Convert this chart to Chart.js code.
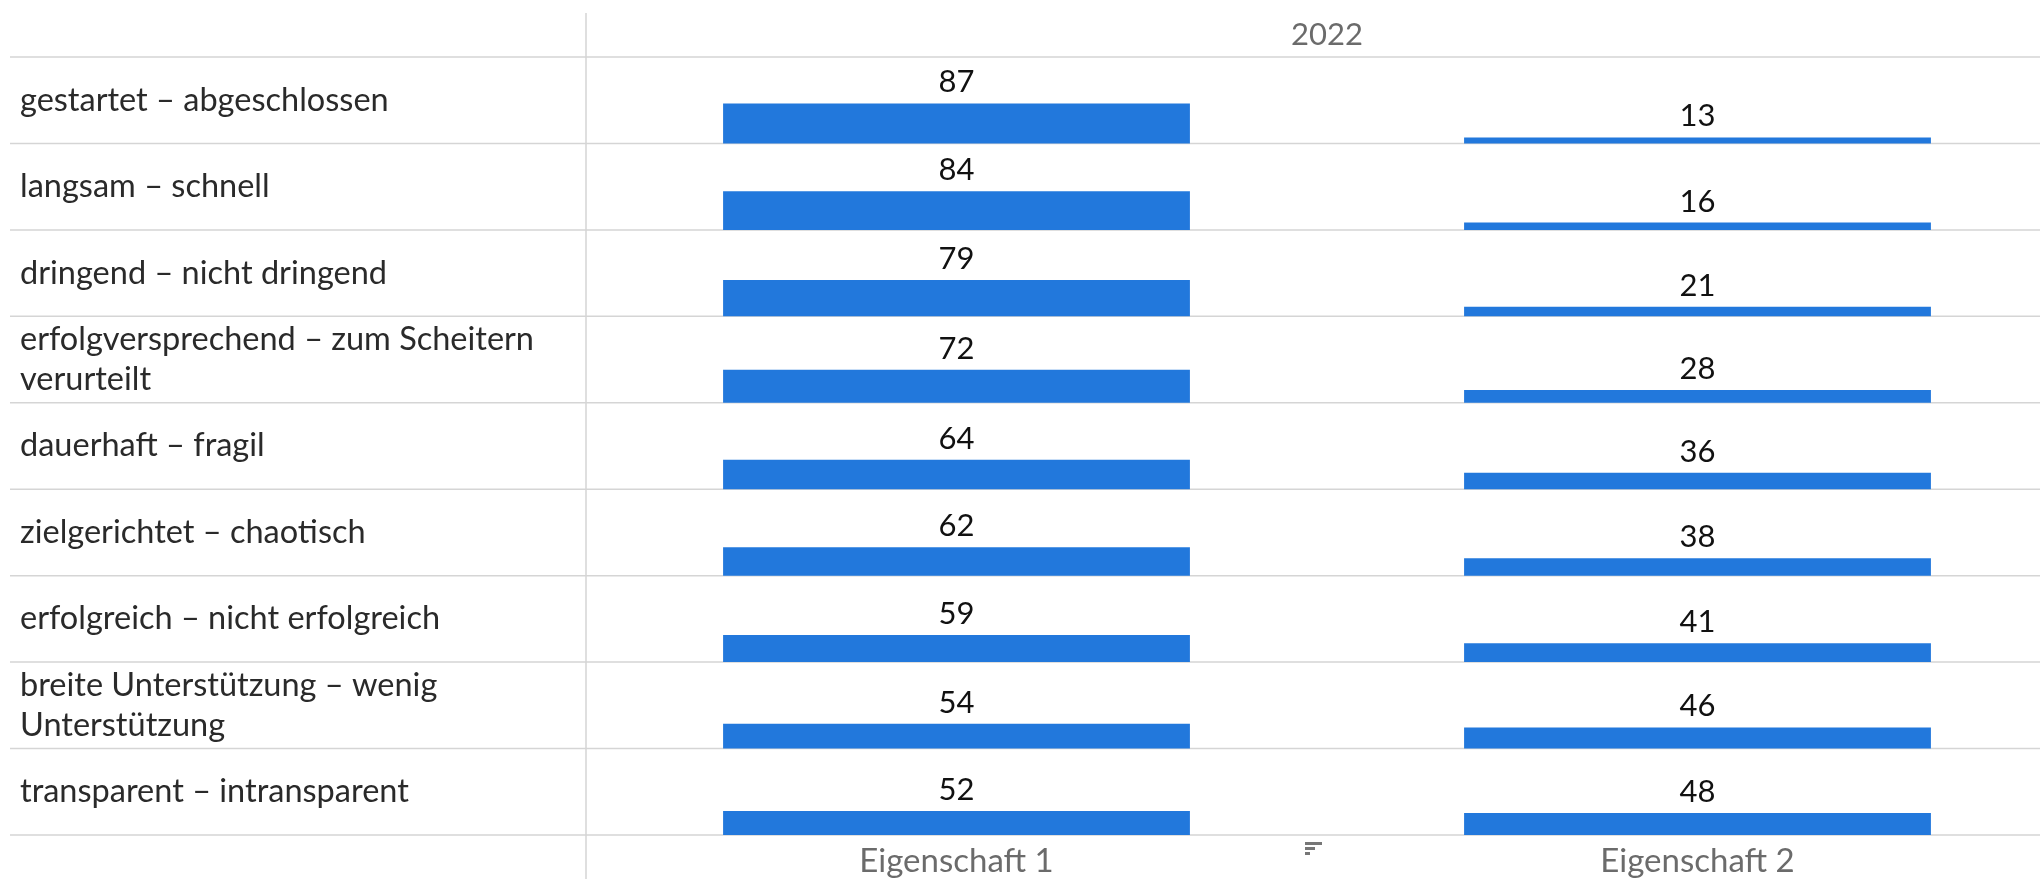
<!DOCTYPE html>
<html>
<head>
<meta charset="utf-8">
<script src="https://cdn.jsdelivr.net/npm/chart.js@4"></script>
<style>
  html, body { margin: 0; padding: 0; overflow: hidden; background: #fff; }
  #wrap { position: relative; width: 2068px; height: 879px; }
</style>
</head>
<body>
<div id="wrap"><canvas id="chart"></canvas></div>
<script>
const rowLabels = [
  "gestartet – abgeschlossen",
  "langsam – schnell",
  "dringend – nicht dringend",
  ["erfolgversprechend – zum Scheitern", "verurteilt"],
  "dauerhaft – fragil",
  "zielgerichtet – chaotisch",
  "erfolgreich – nicht erfolgreich",
  ["breite Unterstützung – wenig", "Unterstützung"],
  "transparent – intransparent"
];
const columns = ["Eigenschaft 1", "Eigenschaft 2"];
const yearLabels = ["2022"];
const eigenschaft1 = [87, 84, 79, 72, 64, 62, 59, 54, 52];
const eigenschaft2 = [13, 16, 21, 28, 36, 38, 41, 46, 48];

const ROW = 188; // value span of one table row
const BLUE = "#2278dc";
const FONT = "Lato";
const nRows = rowLabels.length;

// each row is its own band on the y scale, bars float up from the band's floor
const datasets = rowLabels.map((label, i) => {
  const base = (nRows - 1 - i) * ROW;
  return {
    label: Array.isArray(label) ? label.join(" ") : label,
    data: [[base, base + eigenschaft1[i]], [base, base + eigenschaft2[i]]],
    values: [eigenschaft1[i], eigenschaft2[i]],
    backgroundColor: BLUE,
    grouped: false,
    categoryPercentage: 1,
    barPercentage: 0.63
  };
});

const tableLines = {
  id: "tableLines",
  beforeDatasetsDraw(chart) {
    const { ctx, chartArea, scales } = chart;
    ctx.save();
    ctx.strokeStyle = "#d5d5d5";
    ctx.lineWidth = 1.5;
    for (let k = 0; k <= nRows; k++) {
      const py = scales.y.getPixelForValue(k * ROW);
      ctx.beginPath();
      ctx.moveTo(10, py);
      ctx.lineTo(chart.width, py);
      ctx.stroke();
    }
    ctx.beginPath();
    ctx.moveTo(chartArea.left, 13);
    ctx.lineTo(chartArea.left, chart.height);
    ctx.stroke();
    ctx.restore();
  }
};

const valueLabels = {
  id: "valueLabels",
  afterDatasetsDraw(chart) {
    const ctx = chart.ctx;
    ctx.save();
    ctx.font = "31px " + FONT;
    ctx.fillStyle = "#111";
    ctx.textAlign = "center";
    ctx.textBaseline = "middle";
    chart.data.datasets.forEach((ds, i) => {
      chart.getDatasetMeta(i).data.forEach((bar, j) => {
        ctx.fillText(String(ds.values[j]), bar.x, bar.y - 21);
      });
    });
    ctx.restore();
  }
};

// little sort marker between the two column headers
const sortIcon = {
  id: "sortIcon",
  afterDraw(chart) {
    const { ctx, chartArea, scales } = chart;
    const cx = (scales.x.getPixelForValue(0) + scales.x.getPixelForValue(1)) / 2;
    ctx.save();
    ctx.fillStyle = "#777";
    [17, 10, 5].forEach((w, k) => {
      ctx.fillRect(cx - 22, chartArea.bottom + 7 + k * 5, w, 3);
    });
    ctx.restore();
  }
};

new Chart(document.getElementById("chart"), {
  type: "bar",
  data: {
    labels: columns,
    datasets: datasets
  },
  options: {
    responsive: true,
    maintainAspectRatio: false,
    animation: false,
    layout: { padding: { left: 20, top: 0, right: 0, bottom: 0 } },
    plugins: {
      legend: { display: false },
      tooltip: { enabled: false }
    },
    scales: {
      x: {
        type: "category",
        offset: true,
        grid: { display: false, drawTicks: false },
        border: { display: false },
        ticks: { color: "#6b6b6b", font: { family: FONT, size: 33 }, padding: 7 },
        afterFit: s => { s.height = 44; }
      },
      top: {
        axis: "x",
        type: "category",
        position: "top",
        labels: yearLabels,
        offset: true,
        grid: { display: false, drawTicks: false },
        border: { display: false },
        ticks: { color: "#6b6b6b", font: { family: FONT, size: 31 }, padding: 3 },
        afterFit: s => { s.height = 57; }
      },
      y: {
        type: "linear",
        min: 0,
        max: nRows * ROW,
        grid: { display: false },
        border: { display: false },
        afterBuildTicks: s => {
          s.ticks = rowLabels.map((_, i) => ({ value: i * ROW + ROW / 2 }));
        },
        ticks: {
          autoSkip: false,
          crossAlign: "far",
          color: "#2a2a2a",
          font: { family: FONT, size: 32.5, lineHeight: 1.23 },
          callback: value => rowLabels[nRows - 1 - Math.floor(value / ROW)]
        },
        afterFit: s => { s.width = 566; }
      }
    }
  },
  plugins: [tableLines, valueLabels, sortIcon]
});
</script>
</body>
</html>
